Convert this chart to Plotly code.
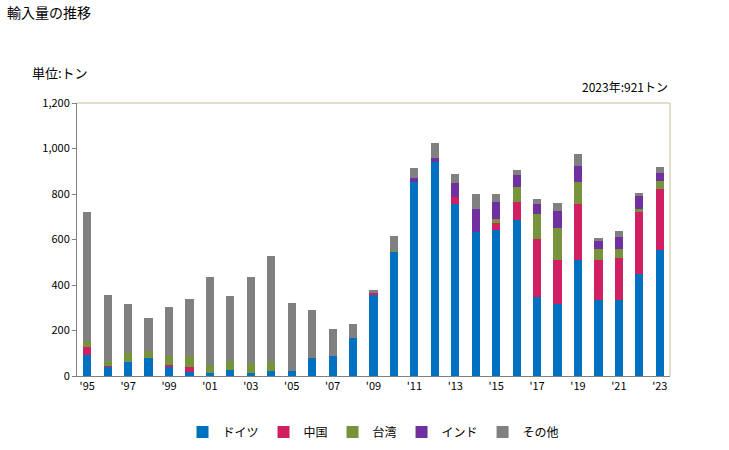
import plotly.graph_objects as go

years = list(range(1995, 2024))
germany = [94, 41, 62, 79, 41, 18, 15, 26, 15, 23, 23, 79, 88, 167, 358, 546, 854, 942, 754, 631, 643, 684, 349, 317, 508, 332, 334, 449, 552]
china   = [34, 4, 0, 0, 9, 23, 0, 0, 0, 0, 0, 0, 0, 0, 9, 0, 0, 0, 35, 0, 30, 79, 255, 191, 249, 176, 185, 270, 271]
taiwan  = [26, 22, 41, 31, 38, 47, 35, 41, 44, 40, 0, 0, 0, 0, 0, 4, 0, 0, 0, 0, 18, 69, 109, 143, 97, 51, 40, 17, 35]
india   = [0, 0, 0, 0, 0, 0, 0, 0, 0, 0, 0, 0, 0, 0, 0, 0, 17, 17, 60, 104, 75, 53, 44, 75, 70, 35, 53, 56, 35]
others  = [568, 289, 214, 145, 216, 251, 386, 285, 377, 465, 298, 211, 119, 62, 11, 66, 44, 66, 40, 66, 35, 22, 22, 35, 53, 13, 26, 13, 27]

series_names = ["ドイツ", "中国", "台湾", "インド", "その他"]
series_values = [germany, china, taiwan, india, others]
series_colors = ["#0070C0", "#D01F62", "#77933C", "#7030A0", "#808080"]

tick_years = list(range(1995, 2024, 2))
tick_labels = ["'" + str(y)[2:] for y in tick_years]

FONT = "Noto Sans CJK JP"

fig = go.Figure()
for name, vals, col in zip(series_names, series_values, series_colors):
    fig.add_trace(go.Bar(x=years, y=vals, name=name, marker_color=col,
                         marker_line_width=0))

fig.update_layout(
    barmode="stack",
    bargap=0.6,
    width=729, height=450,
    margin=dict(l=77, r=59, t=103, b=74, autoexpand=False),
    paper_bgcolor="white",
    plot_bgcolor="white",
    font=dict(family=FONT, size=11, color="#000000"),
    showlegend=True,
    legend=dict(orientation="h", x=0.5, xanchor="center", y=-0.205, yanchor="middle",
                font=dict(size=12), traceorder="normal", itemwidth=30,
                tracegroupgap=0),
    xaxis=dict(
        range=[1994.5, 2023.5],
        tickmode="array", tickvals=tick_years, ticktext=tick_labels,
        showline=True, linecolor="#808080", linewidth=1,
        ticks="", showgrid=False, zeroline=False,
        tickfont=dict(size=11),
    ),
    yaxis=dict(
        range=[0, 1200], dtick=200, tickformat=",",
        showline=True, linecolor="#808080", linewidth=1,
        ticks="outside", ticklen=4, tickcolor="#808080",
        showgrid=False, zeroline=False,
        tickfont=dict(size=11),
    ),
    shapes=[
        dict(type="line", xref="paper", yref="paper", x0=0, x1=1, y0=1, y1=1,
             line=dict(color="#C4BD97", width=1)),
        dict(type="line", xref="paper", yref="paper", x0=1, x1=1, y0=0, y1=1,
             line=dict(color="#C4BD97", width=1)),
    ],
    annotations=[
        dict(text="輸入量の推移", xref="paper", yref="paper", x=-72/593, y=1 + 91/273,
             xanchor="left", yanchor="middle", showarrow=False, font=dict(size=14)),
        dict(text="単位:トン", xref="paper", yref="paper", x=-47/593, y=1 + 30/273,
             xanchor="left", yanchor="middle", showarrow=False, font=dict(size=13)),
        dict(text="2023年:921トン", xref="paper", yref="paper", x=1, y=1 + 17/273,
             xanchor="right", yanchor="middle", showarrow=False, font=dict(size=12)),
    ],
)

fig.write_html("out.html")
